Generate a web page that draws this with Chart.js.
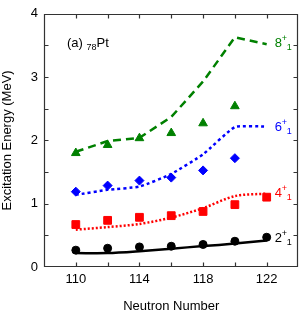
<!DOCTYPE html>
<html>
<head>
<meta charset="utf-8">
<script src="https://cdn.jsdelivr.net/npm/chart.js@4.4.1/dist/chart.umd.min.js"></script>
<style>
  body { margin: 0; background: #fff; }
  #wrap { position: relative; width: 305px; height: 318px; }
  #wrap canvas { position: absolute; left: 0; top: 0; }
  #frame { pointer-events: none; }
</style>
</head>
<body>
<div id="wrap">
  <canvas id="pt-chart" width="305" height="318"></canvas>
  <canvas id="frame" width="305" height="318"></canvas>
</div>
<script>
// neutron numbers
const neutrons = [110, 112, 114, 116, 118, 120, 122];

// experiment (points)
const exp2 = [0.266, 0.296, 0.317, 0.328, 0.356, 0.407, 0.470];
const exp4 = [0.671, 0.737, 0.785, 0.811, 0.877, 0.985, 1.103];
const exp6 = [1.19, 1.286, 1.365, 1.412, 1.526, 1.719];
const exp8 = [1.80, 1.928, 2.035, 2.116, 2.27, 2.54];

// calculation (lines)
const calc2 = [0.22, 0.22, 0.25, 0.29, 0.33, 0.37, 0.42];
const calc4 = [0.59, 0.63, 0.68, 0.78, 0.93, 1.12, 1.16];
const calc6 = [1.14, 1.22, 1.27, 1.47, 1.78, 2.21, 2.22];
const calc8 = [1.82, 1.99, 2.04, 2.37, 2.93, 3.63, 3.52];

const xTicks = [110, 114, 118, 122];
const yTicks = [0, 1, 2, 3, 4];
const xMinor = [110, 112, 114, 116, 118, 120, 122];
const yMinor = [0.5, 1, 1.5, 2, 2.5, 3, 3.5];

// state labels at right side: [spin, x, y, colour]
const stateLabels = [
  ["8", 122.5, 3.48, "#008000"],
  ["6", 122.5, 2.15, "#0000ff"],
  ["4", 122.5, 1.10, "#ff0000"],
  ["2", 122.5, 0.39, "#000000"],
];

const FONT = "'Liberation Sans', Arial, sans-serif";

function pts(ys) {
  return ys.map((y, i) => ({ x: neutrons[i], y: y }));
}

function lineSet(ys, color, dash, tension) {
  return {
    data: pts(ys),
    showLine: true,
    borderColor: color,
    backgroundColor: color,
    borderWidth: 2.5,
    borderDash: dash,
    pointRadius: 0,
    fill: false,
    tension: tension,
    order: 2,
  };
}

function pointSet(ys, color, style, radius) {
  return {
    data: pts(ys),
    showLine: false,
    backgroundColor: color,
    borderColor: color,
    borderWidth: 1,
    pointStyle: style,
    pointRadius: radius,
    order: 1,
  };
}

// text labels inside the plot
const labelPlugin = {
  id: "labels",
  afterDraw(chart) {
    const ctx = chart.ctx;
    const xs = chart.scales.x;
    const ys = chart.scales.y;
    ctx.save();
    ctx.fillStyle = "#000";
    ctx.textBaseline = "alphabetic";
    ctx.textAlign = "left";
    ctx.font = "13px " + FONT;
    let tx = 67;
    ctx.fillText("(a) ", tx, 47);
    tx += ctx.measureText("(a) ").width;
    ctx.font = "9px " + FONT;
    ctx.fillText("78", tx, 50);
    tx += ctx.measureText("78").width;
    ctx.font = "13px " + FONT;
    ctx.fillText("Pt", tx, 47);

    stateLabels.forEach(([s, vx, vy, col]) => {
      const px = xs.getPixelForValue(vx);
      const py = ys.getPixelForValue(vy);
      ctx.fillStyle = col;
      ctx.font = "13px " + FONT;
      ctx.fillText(s, px, py);
      const w = ctx.measureText(s).width;
      ctx.font = "9px " + FONT;
      ctx.fillText("+", px + w, py - 6);
      ctx.fillText("1", px + w + 5, py + 3);
    });
    ctx.restore();
  },
};

const chart = new Chart(document.getElementById("pt-chart"), {
  type: "scatter",
  data: {
    datasets: [
      lineSet(calc2, "#000000", [], 0.3),
      lineSet(calc4, "#ff0000", [2, 2], 0.3),
      lineSet(calc6, "#0000ff", [3, 3], 0.15),
      lineSet(calc8, "#008000", [8, 5], 0),
      pointSet(exp2, "#000000", "circle", 4),
      pointSet(exp4, "#ff0000", "rect", 5.5),
      pointSet(exp6, "#0000ff", "rectRot", 4.5),
      pointSet(exp8, "#008000", "triangle", 5),
    ],
  },
  options: {
    responsive: false,
    animation: false,
    layout: { padding: { top: 8, right: 3, left: 0, bottom: 0 } },
    plugins: {
      legend: { display: false },
      tooltip: { enabled: false },
    },
    scales: {
      x: {
        type: "linear",
        min: 108,
        max: 124,
        afterFit: (s) => { s.height = 51; },
        afterBuildTicks: (s) => { s.ticks = xTicks.map((v) => ({ value: v })); },
        grid: { display: false, drawTicks: false },
        border: { display: false },
        ticks: { color: "#000", padding: 5, font: { family: FONT, size: 13 } },
        title: {
          display: true,
          text: "Neutron Number",
          color: "#000",
          font: { family: FONT, size: 13 },
          padding: { top: 0, bottom: 3.5 },
        },
      },
      y: {
        min: 0,
        max: 4,
        afterFit: (s) => { s.width = 44; },
        afterBuildTicks: (s) => { s.ticks = yTicks.map((v) => ({ value: v })); },
        grid: { display: false, drawTicks: false },
        border: { display: false },
        ticks: { color: "#000", padding: 6, font: { family: FONT, size: 13 } },
        title: {
          display: true,
          text: "Excitation Energy (MeV)",
          color: "#000",
          font: { family: FONT, size: 13 },
          padding: { top: 0, bottom: 0 },
        },
      },
    },
  },
  plugins: [labelPlugin],
});

// box + inward ticks on a second canvas laid over the chart
function drawFrame() {
  const fc = document.getElementById("frame").getContext("2d");
  const xs = chart.scales.x;
  const ys = chart.scales.y;
  const L = Math.round(xs.getPixelForValue(xs.min)) + 0.5;
  const R = Math.round(xs.getPixelForValue(xs.max)) - 1.5;
  const T = Math.round(ys.getPixelForValue(ys.max)) + 0.5;
  const B = Math.round(ys.getPixelForValue(ys.min)) - 0.5;
  fc.clearRect(0, 0, 305, 318);
  fc.strokeStyle = "#333333";
  fc.lineWidth = 1.2;
  fc.beginPath();
  fc.rect(L, T, R - L, B - T);
  xMinor.forEach((v) => {
    const px = Math.round(xs.getPixelForValue(v)) + 0.5;
    fc.moveTo(px, B); fc.lineTo(px, B - 4);
    fc.moveTo(px, T); fc.lineTo(px, T + 4);
  });
  yMinor.forEach((v) => {
    const py = Math.round(ys.getPixelForValue(v)) + 0.5;
    fc.moveTo(L, py); fc.lineTo(L + 4, py);
    fc.moveTo(R, py); fc.lineTo(R - 4, py);
  });
  fc.stroke();
}
drawFrame();
</script>
</body>
</html>
